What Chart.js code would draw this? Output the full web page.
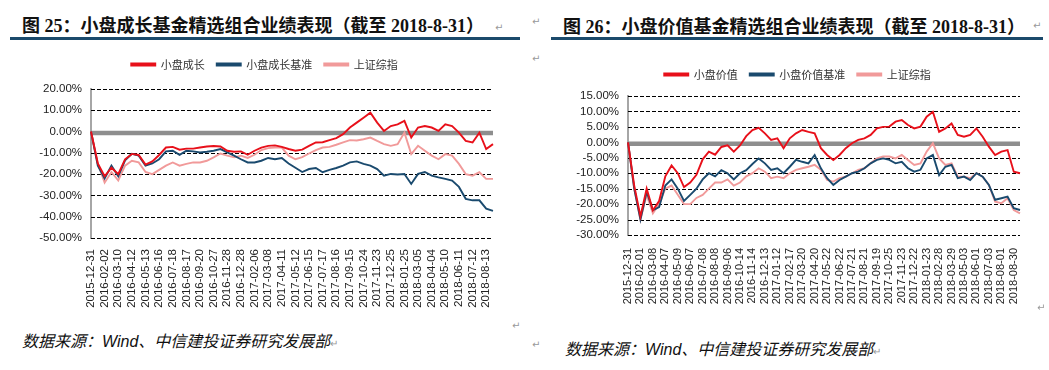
<!DOCTYPE html>
<html>
<head>
<meta charset="utf-8">
<script src="https://cdn.jsdelivr.net/npm/chart.js@4.4.1/dist/chart.umd.min.js"></script>
<style>
  body { margin: 0; width: 1049px; height: 370px; background: #fff; position: relative; overflow: hidden; }
  .title { position: absolute; font: bold 18px 'Liberation Serif', 'Noto Sans CJK SC', serif; color: #111; white-space: nowrap; }
  .rule { position: absolute; height: 3px; background: #1b4a6b; }
  .src { position: absolute; font: italic 16px 'Liberation Sans', 'Noto Sans CJK SC', sans-serif; color: #111; white-space: nowrap; }
  .ret { position: absolute; font: 10px 'DejaVu Sans', sans-serif; color: #999; }
  canvas { position: absolute; }
</style>
</head>
<body>
<div class="title" style="left:22px; top:11px;">图 25：小盘成长基金精选组合业绩表现（截至 2018-8-31）</div>
<span class="ret" style="left:495px; top:22px;">↵</span>
<div class="rule" style="left:10px; top:37px; width:510px;"></div>

<span class="ret" style="left:532px; top:16px;">↵</span>
<div class="title" style="left:563px; top:12px;">图 26：小盘价值基金精选组合业绩表现（截至 2018-8-31）</div>
<span class="ret" style="left:1033px; top:20px;">↵</span>
<div class="rule" style="left:551px; top:37px; width:492px;"></div>
<span class="ret" style="left:532px; top:53px;">↵</span>

<div style="position:absolute; left:36px; top:47px; width:489px; height:266px;"><canvas id="leftChart"></canvas></div>
<div style="position:absolute; left:575px; top:57px; width:474px; height:248px;"><canvas id="rightChart"></canvas></div>

<span class="ret" style="left:512px; top:320px;">↵</span>
<span class="ret" style="left:1037px; top:302px;">↵</span>

<div class="src" style="left:22px; top:328px;">数据来源：Wind、中信建投证券研究发展部<span style="font-style:normal;font-size:10px;color:#999;">↵</span></div>
<span class="ret" style="left:532px; top:339px;">↵</span>
<div class="src" style="left:565px; top:336px;">数据来源：Wind、中信建投证券研究发展部<span style="font-style:normal;font-size:10px;color:#999;">↵</span></div>

<script>
// x axis tick dates (every other data point sits on a tick)
const growthTicks = ['2015-12-31','2016-02-02','2016-03-10','2016-04-12','2016-05-13','2016-06-16','2016-07-18','2016-08-17','2016-09-20','2016-10-27','2016-11-28','2016-12-28','2017-02-06','2017-03-08','2017-04-11','2017-05-12','2017-06-15','2017-07-17','2017-08-16','2017-09-15','2017-10-24','2017-11-23','2017-12-25','2018-01-25','2018-03-05','2018-04-04','2018-05-10','2018-06-11','2018-07-12','2018-08-13'];
const valueTicks = ['2015-12-31','2016-02-01','2016-03-08','2016-04-07','2016-05-09','2016-06-07','2016-07-08','2016-08-08','2016-09-06','2016-10-14','2016-11-14','2016-12-13','2017-01-12','2017-02-17','2017-03-20','2017-04-20','2017-05-22','2017-06-22','2017-07-21','2017-08-21','2017-09-19','2017-10-25','2017-11-23','2017-12-22','2018-01-23','2018-02-28','2018-03-29','2018-05-03','2018-06-01','2018-07-03','2018-08-01','2018-08-30'];

// Figure 25 (%)
const growthFund = [0,-15,-21,-17,-20,-13,-10.5,-11,-15.5,-14,-11,-7.5,-7.2,-8.5,-8,-8,-7.5,-7,-6.8,-7,-9,-9.5,-9.3,-10.9,-9,-7.5,-6.7,-6.5,-7.2,-8.2,-9,-8.5,-6.7,-5.1,-5,-4,-3.1,-1.2,1.9,4.2,6.5,8.9,4.2,0.3,2.6,3.4,5,-2.8,1.9,2.6,1.9,0.3,3.4,2.6,-0.5,-4.4,-5.1,-0.5,-8.2,-5.9];
const growthBench = [0,-16,-22,-16,-21,-13.5,-10.5,-11.3,-16,-15,-13,-9.3,-9,-10.9,-9,-9.3,-9.8,-9.5,-9,-8.2,-9.8,-11.3,-13,-14.5,-14.5,-13.7,-12.4,-13,-12.4,-15,-17,-19,-17.6,-17.1,-19.1,-18,-17.1,-16,-14.5,-14,-15.2,-16,-17.6,-20.7,-19.9,-20.2,-19.9,-24.6,-19.9,-19,-20.7,-21.5,-22.2,-23,-26,-31.6,-32.3,-32.3,-36.2,-37.3];
const growthIndex = [0,-15,-24,-19,-23,-16,-13.7,-14.5,-19,-20,-18,-16,-14.5,-16,-15.2,-14.5,-14.5,-13.7,-12.1,-10.3,-11.3,-12.1,-11.3,-12.4,-10.9,-8.7,-7.8,-7.5,-7.5,-11.3,-13,-12,-10.3,-8.7,-7.5,-7.2,-6.2,-5.1,-4,-4.2,-3.6,-2.8,-4.4,-5.9,-6.7,-5.9,-0.5,-10.6,-6.7,-9,-11.3,-13,-10.6,-11.3,-15.2,-20,-20.7,-19.1,-22.2,-22.2];

// Figure 26 (%)
const valueFund = [0,-14,-24,-15,-22,-19,-11,-7.5,-10,-14.5,-13,-10.5,-5.5,-3,-4,-1.5,-1,-3,-1,2,4,4.7,2.9,0.8,1.3,-1.9,1.3,2.9,4,3.4,2.9,-1.9,-4.1,-5.7,-4.1,-1.9,-0.3,0.8,1.3,2.4,4.5,5,5.1,6.7,7.2,5.6,4.5,5.1,8.3,9.9,3.4,4.5,6.1,2.4,1.8,2.4,4.5,1.8,-1.4,-4.1,-3,-2.5,-9.5,-10];
const valueBench = [0,-15,-25,-16,-22,-21,-14,-12,-15,-19,-17,-15,-12,-10,-11,-9,-10,-12,-10,-9,-7,-5.2,-6.8,-8.9,-8.4,-10,-7.9,-5.7,-6.3,-6.8,-4.1,-8.4,-11.6,-13.8,-12.2,-11.1,-10,-9.5,-8.4,-6.8,-5.7,-5.2,-5.7,-6.8,-6.3,-8.4,-9.5,-8.9,-5.2,-4.1,-10.6,-7.9,-7.3,-11.6,-11.1,-12.2,-10,-11.1,-13.8,-18.6,-18.1,-17.6,-21.3,-21.9];
const valueIndex = [0,-15,-25,-17,-23,-20,-15,-14,-17,-20,-20,-18,-17,-15,-13,-13,-12,-14,-13,-11,-10,-8.4,-9.5,-11.6,-11.1,-11.6,-10,-8.9,-8.4,-7.9,-7.3,-8.9,-12.2,-12.7,-11.6,-11.1,-10,-8.9,-8.4,-6.8,-5.2,-4.6,-4.6,-5.2,-4.1,-5.7,-7.3,-6.8,-3,-0.3,-5.2,-7.3,-6.8,-11.1,-11.1,-11.6,-10,-11.1,-13.8,-19.2,-19.7,-18.1,-21.9,-23];

const RED = '#e8101a';
const BLUE = '#1a4a6e';
const PINK = '#f19a9a';

// dashed horizontal grid at every y tick, plus the thick grey bar on 0%
const gridAndZero = {
    id: 'gridAndZero',
    beforeDatasetsDraw(chart) {
        const { ctx, chartArea, scales } = chart;
        const y = scales.y;
        ctx.save();
        ctx.strokeStyle = '#000';
        ctx.lineWidth = 1;
        ctx.setLineDash([4, 2]);
        y.ticks.forEach(t => {
            const py = Math.round(y.getPixelForValue(t.value)) + 0.5;
            ctx.beginPath();
            ctx.moveTo(chartArea.left, py);
            ctx.lineTo(chartArea.right, py);
            ctx.stroke();
        });
        ctx.setLineDash([]);
        const zy = y.getPixelForValue(0) + 1.5;
        ctx.strokeStyle = '#8e8e8e';
        ctx.lineWidth = 4.5;
        ctx.beginPath();
        ctx.moveTo(chartArea.left, zy);
        ctx.lineTo(chartArea.right, zy);
        ctx.stroke();
        ctx.restore();
    }
};

function buildLabels(ticks, count) {
    return Array.from({ length: count }, (_, i) => (i % 2 === 0 && ticks[i / 2]) ? ticks[i / 2] : '');
}

function line(label, data, color) {
    return { label, data, borderColor: color, backgroundColor: color, borderWidth: 1.9, pointRadius: 0, tension: 0 };
}

function makeChart(id, cfg) {
    return new Chart(document.getElementById(id), {
        type: 'line',
        data: {
            labels: buildLabels(cfg.ticks, cfg.series[0].data.length),
            datasets: cfg.series
        },
        plugins: [gridAndZero],
        options: {
            responsive: true,
            maintainAspectRatio: false,
            animation: false,
            layout: { padding: { top: 0, right: cfg.padRight, bottom: 0, left: 0 } },
            plugins: {
                tooltip: { enabled: false },
                legend: {
                    position: 'top',
                    weight: 3000,
                    labels: {
                        boxWidth: 24, boxHeight: 2, padding: 12, color: '#333',
                        font: { family: "'Noto Sans CJK SC', sans-serif", size: 11 }
                    }
                },
                // empty title used only as a gap between legend and plot
                title: { display: true, text: '', weight: 2000, font: { size: 1, lineHeight: 1 }, padding: { top: 0, bottom: cfg.gap } }
            },
            scales: {
                x: {
                    grid: { display: false, drawTicks: false },
                    border: { display: false },
                    afterFit: s => { s.height = cfg.xHeight; },
                    ticks: {
                        autoSkip: false, maxRotation: 90, minRotation: 90, padding: cfg.xPad,
                        color: '#222', font: { family: "'Liberation Sans', Arial, sans-serif", size: cfg.xFont }
                    }
                },
                y: {
                    min: cfg.min, max: cfg.max,
                    afterFit: s => { s.width = cfg.yWidth; },
                    grid: { display: false, drawTicks: false },
                    border: { display: true, color: '#a6a6a6', width: 2 },
                    ticks: {
                        stepSize: cfg.step, autoSkip: false, padding: 9, color: '#222',
                        font: { family: "'Liberation Sans', Arial, sans-serif", size: 11.5 },
                        callback: v => v.toFixed(2) + '%'
                    }
                }
            }
        }
    });
}

makeChart('leftChart', {
    ticks: growthTicks,
    series: [line('小盘成长', growthFund, RED), line('小盘成长基准', growthBench, BLUE), line('上证综指', growthIndex, PINK)],
    min: -50, max: 20, step: 10,
    padRight: 32, gap: 8, yWidth: 55, xHeight: 75, xPad: 11, xFont: 11.5
});

makeChart('rightChart', {
    ticks: valueTicks,
    series: [line('小盘价值', valueFund, RED), line('小盘价值基准', valueBench, BLUE), line('上证综指', valueIndex, PINK)],
    min: -30, max: 15, step: 5,
    padRight: 29, gap: 5, yWidth: 53, xHeight: 70, xPad: 13, xFont: 11
});
</script>
</body>
</html>
